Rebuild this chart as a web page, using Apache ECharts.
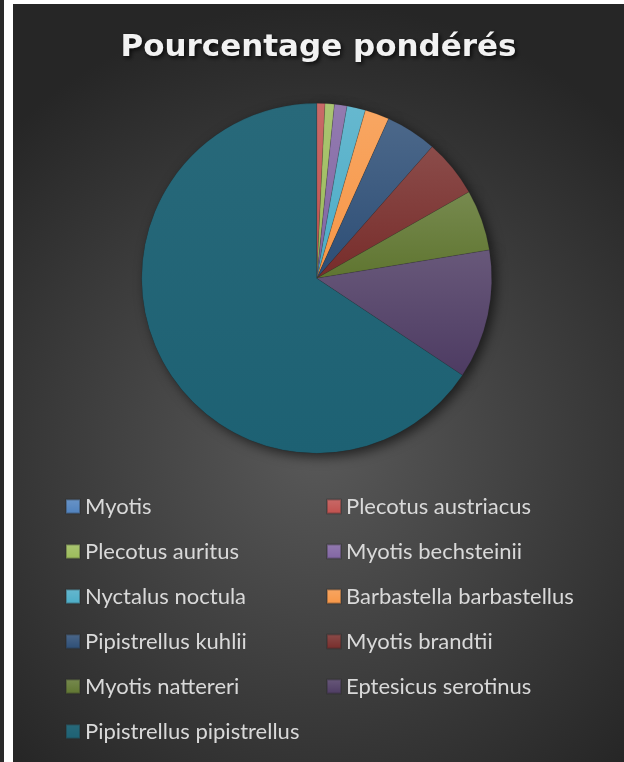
<!DOCTYPE html>
<html>
<head>
<meta charset="utf-8">
<script src="https://cdn.jsdelivr.net/npm/echarts@6/dist/echarts.min.js"></script>
<style>
  html, body { margin:0; padding:0; background:#ffffff; width:624px; height:762px; overflow:hidden; }
  #strip { position:absolute; left:0; top:0; width:4px; height:762px; background:#2a2a2a; }
  #chart { position:absolute; left:13px; top:4px; width:611px; height:758px; }
</style>
</head>
<body>
<div id="strip"></div>
<div id="chart"></div>
<script>
const titleText = 'Pourcentage pondérés';
const categories = [
  'Myotis',
  'Plecotus austriacus',
  'Plecotus auritus',
  'Myotis bechsteinii',
  'Nyctalus noctula',
  'Barbastella barbastellus',
  'Pipistrellus kuhlii',
  'Myotis brandtii',
  'Myotis nattereri',
  'Eptesicus serotinus',
  'Pipistrellus pipistrellus'
];
const values = [0, 0.76, 0.86, 1.16, 1.71, 2.25, 4.73, 5.32, 5.62, 11.93, 65.66];
const colors = ['#4F81BD','#C0504D','#9BBB59','#8064A2','#4BACC6','#F79646','#2C4D75','#772C2A','#5F7530','#4D3B62','#1D6173'];

function lighten(hex, amt) {
  const n = parseInt(hex.slice(1), 16);
  let r = (n >> 16) & 255, g = (n >> 8) & 255, b = n & 255;
  r = Math.round(r + (255 - r) * amt);
  g = Math.round(g + (255 - g) * amt);
  b = Math.round(b + (255 - b) * amt);
  return 'rgb(' + r + ',' + g + ',' + b + ')';
}
function grad(hex, amt) {
  return new echarts.graphic.LinearGradient(0, 0, 0, 1, [
    { offset: 0, color: lighten(hex, amt) },
    { offset: 1, color: hex }
  ]);
}

const data = categories.map((c, i) => ({
  name: c, value: values[i],
  itemStyle: { color: grad(colors[i], i === 10 ? 0.05 : 0.15) }
}));
const shadowData = categories.map((c, i) => ({ name: c, value: values[i] }));

const chart = echarts.init(document.getElementById('chart'), null, { renderer: 'canvas' });
chart.setOption({
  animation: false,
  backgroundColor: new echarts.graphic.RadialGradient(0.5, 0.58, 0.72, [
    { offset: 0, color: '#595959' },
    { offset: 1, color: '#262626' }
  ]),
  title: {
    text: titleText,
    left: 'center',
    top: 23,
    textStyle: {
      fontFamily: 'DejaVu Sans',
      fontWeight: 'bold',
      fontSize: 31,
      color: '#f2f2f2',
      textShadowColor: 'rgba(0,0,0,0.75)',
      textShadowBlur: 4,
      textShadowOffsetX: 2,
      textShadowOffsetY: 2
    }
  },
  legend: {
    data: categories,
    left: 47,
    top: 484,
    width: 540,
    orient: 'horizontal',
    itemWidth: 14,
    itemHeight: 14,
    itemGap: 18,
    icon: 'rect',
    selectedMode: false,
    textStyle: {
      fontFamily: 'Lato',
      fontSize: 22,
      color: '#d9d9d9',
      width: 223,
      lineHeight: 27
    }
  },
  series: [
    {
      type: 'pie',
      center: [303.7, 274.3],
      radius: 175,
      startAngle: 90,
      clockwise: true,
      z: 2,
      label: { show: false },
      labelLine: { show: false },
      itemStyle: {
        borderColor: 'rgba(40,40,40,0.35)',
        borderWidth: 0.5
      },
      emphasis: { disabled: true },
      data: data
    },
    {
      type: 'pie',
      silent: true,
      center: [303.7, 274.3],
      radius: 175,
      startAngle: 90,
      clockwise: true,
      label: { show: false },
      labelLine: { show: false },
      legendHoverLink: false,
      z: 1,
      itemStyle: {
        color: '#1a1a1a',
        shadowBlur: 12,
        shadowColor: 'rgba(0,0,0,0.6)',
        shadowOffsetX: 4,
        shadowOffsetY: 4
      },
      data: shadowData
    }
  ]
});
</script>
</body>
</html>
